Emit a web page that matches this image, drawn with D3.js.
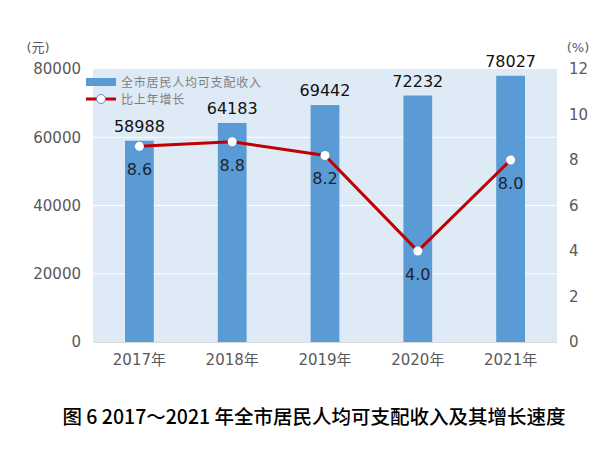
<!DOCTYPE html>
<html><head><meta charset="utf-8">
<script src="https://cdn.jsdelivr.net/npm/d3@7"></script>
<style>body{margin:0;background:#fff}svg{display:block}</style>
</head><body>
<svg id="c" width="615" height="455"></svg>
<script>
const categories = ["2017年","2018年","2019年","2020年","2021年"];
const income = [58988, 64183, 69442, 72232, 78027];
const growth = [8.6, 8.8, 8.2, 4.0, 8.0];
const leftTicks = [0, 20000, 40000, 60000, 80000];
const rightTicks = [0, 2, 4, 6, 8, 10, 12];
const seriesNames = ["全市居民人均可支配收入", "比上年增长"];
const title = "图 6 2017～2021 年全市居民人均可支配收入及其增长速度";

const svg = d3.select("#c");
const L = 93, R = 557, T = 69, B = 342;
const font = "'DejaVu Sans', 'Noto Sans CJK SC', sans-serif";

const x = d3.scaleBand().domain(categories).range([L, R]).paddingInner(0.69).paddingOuter(0.345);
const xc = d3.scaleBand().domain(categories).range([L, R]);
const yL = d3.scaleLinear().domain([0, 80000]).range([B, T]);
const yR = d3.scaleLinear().domain([0, 12]).range([B, T]);

svg.append("rect").attr("x", L).attr("y", T).attr("width", R - L).attr("height", B - T).attr("fill", "#deeaf6");

// gridlines
svg.append("g").selectAll("line").data(leftTicks.filter(d => d > 0 && d < 80000)).join("line")
  .attr("x1", L).attr("x2", R).attr("y1", d => yL(d)).attr("y2", d => yL(d))
  .attr("stroke", "#fff").attr("stroke-width", 1.2);

// bars
svg.append("g").selectAll("rect").data(income).join("rect")
  .attr("x", (d, i) => x(categories[i])).attr("width", x.bandwidth())
  .attr("y", d => yL(d)).attr("height", d => B - yL(d)).attr("fill", "#5b9bd5");

// left axis
const gl = svg.append("g").attr("transform", `translate(${L},0)`)
  .call(d3.axisLeft(yL).tickValues(leftTicks).tickSize(0).tickPadding(12).tickFormat(d3.format("d")));
gl.select(".domain").remove();
gl.selectAll("text").attr("font-family", font).attr("font-size", 15).attr("fill", "#595959");

// right axis
const gr = svg.append("g").attr("transform", `translate(${R},0)`)
  .call(d3.axisRight(yR).tickValues(rightTicks).tickSize(0).tickPadding(12));
gr.select(".domain").remove();
gr.selectAll("text").attr("font-family", font).attr("font-size", 15).attr("fill", "#595959");

// x axis
const gx = svg.append("g").attr("transform", `translate(0,${B})`)
  .call(d3.axisBottom(xc).tickSize(0).tickPadding(12));
gx.select(".domain").attr("stroke", "#d9d9d9");
gx.selectAll("text").attr("font-family", font).attr("font-size", 15).attr("fill", "#595959");

// unit labels
svg.append("text").attr("x", 38).attr("y", 52).attr("text-anchor", "middle")
  .attr("font-family", font).attr("font-size", 13).attr("fill", "#595959").text("(元)");
svg.append("text").attr("x", 578).attr("y", 52).attr("text-anchor", "middle")
  .attr("font-family", font).attr("font-size", 13).attr("fill", "#595959").text("(%)");

// bar labels
svg.append("g").selectAll("text").data(income).join("text")
  .attr("x", (d, i) => xc(categories[i]) + xc.bandwidth() / 2).attr("y", d => yL(d) - 9)
  .attr("text-anchor", "middle").attr("font-family", font).attr("font-size", 16).attr("fill", "#111")
  .text(d => d);

// line
const line = d3.line().x((d, i) => xc(categories[i]) + xc.bandwidth() / 2).y(d => yR(d));
svg.append("path").datum(growth).attr("d", line).attr("fill", "none")
  .attr("stroke", "#c00000").attr("stroke-width", 3);
svg.append("g").selectAll("circle").data(growth).join("circle")
  .attr("cx", (d, i) => xc(categories[i]) + xc.bandwidth() / 2).attr("cy", d => yR(d))
  .attr("r", 4.5).attr("fill", "#fff");

svg.append("g").selectAll("text").data(growth).join("text")
  .attr("x", (d, i) => xc(categories[i]) + xc.bandwidth() / 2).attr("y", d => yR(d) + 29)
  .attr("text-anchor", "middle").attr("font-family", font).attr("font-size", 16).attr("fill", "#1a2533")
  .text(d => d.toFixed(1));

// legend
const lg = svg.append("g");
lg.append("rect").attr("x", 86).attr("y", 78).attr("width", 30).attr("height", 8).attr("fill", "#5b9bd5");
lg.append("text").attr("x", 121).attr("y", 86.5).attr("font-family", "'Noto Sans CJK SC', sans-serif")
  .attr("font-size", 12).attr("letter-spacing", 0.8).attr("fill", "#7f7f7f").text(seriesNames[0]);
lg.append("line").attr("x1", 86).attr("x2", 116).attr("y1", 99).attr("y2", 99)
  .attr("stroke", "#c00000").attr("stroke-width", 3);
lg.append("circle").attr("cx", 101).attr("cy", 99).attr("r", 4.5).attr("fill", "#fff")
  .attr("stroke", "#4472c4").attr("stroke-width", 0.8);
lg.append("text").attr("x", 121).attr("y", 104).attr("font-family", "'Noto Sans CJK SC', sans-serif")
  .attr("font-size", 12).attr("letter-spacing", 0.8).attr("fill", "#7f7f7f").text(seriesNames[1]);

// title
svg.append("text").attr("x", 314).attr("y", 424).attr("text-anchor", "middle")
  .attr("font-family", "'Noto Sans CJK SC', sans-serif").attr("font-size", 19.5).attr("font-weight", 500)
  .attr("fill", "#000").text(title);
</script>
</body></html>
